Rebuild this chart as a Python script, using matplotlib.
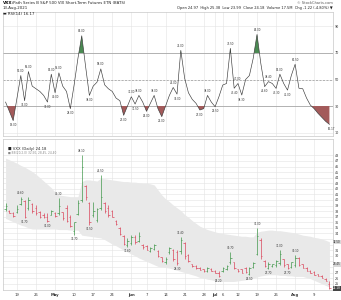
import numpy as np
import pandas as pd
import matplotlib
matplotlib.use("Agg")
import matplotlib.pyplot as plt

# trading days shown (Apr 14 - Aug 13 2021, holidays removed)
DATES = pd.bdate_range("2021-04-14", "2021-08-13")
DATES = DATES[~DATES.isin(pd.to_datetime(["2021-05-31", "2021-07-05"]))]

RSI = [33, 26, 19, 36, 53, 34, 56, 45, 43, 41, 38, 33, 54, 40, 55, 45, 41, 28, 46, 66,
       83, 60, 38, 45, 48, 58, 46, 43, 41, 36, 34, 23, 30, 37, 31.5, 38, 33, 26, 32, 38,
       28, 22, 30, 38, 44, 39, 72, 51, 40, 35, 32, 27, 28, 38, 33, 29.5, 37, 45.8, 47, 73.5,
       43.4, 47, 38.3, 50, 53, 66, 84, 62, 44.6, 48.4, 47, 43.3, 54, 47, 42, 53, 61.5, 43.4,
       43, 36, 30.7, 28, 24.5, 21.5, 18.5, 16.17]

OPEN = [38.3, 38.1, 37.6, 37.8, 39.3, 39.8, 38.5, 39.2, 38.6, 37.8, 37.3, 37.0, 37.4, 37.7, 37.6, 37.8,
        38.5, 37.0, 34.5, 37.5, 40.0, 42.5, 39.5, 37.4, 36.5, 38.6, 39.5, 38.6, 38.0, 36.3, 35.0, 33.5,
        31.9, 32.3, 33.4, 32.7, 32.0, 31.7, 30.9, 31.3, 30.9, 29.7, 28.9, 30.6, 31.0, 30.6, 30.8, 32.3,
        30.2, 28.5, 28.2, 27.9, 27.6, 27.3, 27.7, 27.3, 27.0, 27.2, 27.6, 28.8, 28.8, 27.6, 27.6, 27.8,
        26.8, 28.0, 30.4, 32.8, 29.1, 27.9, 28.1, 28.3, 28.7, 29.4, 28.5, 28.0, 28.3, 29.6, 28.5, 27.9,
        27.3, 27.1, 26.7, 26.4, 25.9, 25.0]
HIGH = [39.4, 38.2, 37.8, 39.1, 40.6, 40.0, 40.6, 39.4, 39.1, 38.0, 37.6, 37.6, 38.2, 37.9, 40.3, 37.9,
        39.1, 37.3, 36.1, 40.0, 48.1, 42.7, 39.7, 39.7, 38.5, 44.5, 39.7, 39.1, 38.2, 36.4, 35.2, 33.7,
        33.1, 33.7, 33.7, 34.3, 32.2, 31.9, 31.6, 32.2, 31.0, 29.8, 29.8, 31.6, 31.3, 31.0, 33.4, 32.5,
        30.4, 28.6, 28.3, 28.0, 27.7, 28.0, 27.8, 27.4, 27.2, 28.0, 28.3, 30.7, 28.9, 27.7, 27.7, 28.0,
        28.0, 28.9, 35.0, 33.1, 29.2, 28.9, 28.6, 29.2, 31.0, 29.5, 28.6, 28.9, 30.1, 29.8, 28.6, 28.0,
        27.4, 27.2, 26.8, 26.5, 26.0, 25.4]
LOW = [38.1, 37.6, 37.0, 37.6, 39.1, 36.7, 38.2, 37.6, 37.3, 36.7, 36.7, 36.0, 37.3, 37.0, 37.4, 36.4,
       36.0, 35.2, 33.7, 37.3, 39.7, 40.0, 35.5, 37.0, 36.0, 38.2, 37.6, 37.0, 36.9, 35.5, 33.7, 31.9,
       31.6, 31.9, 32.2, 32.5, 31.3, 31.0, 30.7, 31.0, 29.8, 28.9, 28.6, 30.4, 29.0, 28.3, 30.4, 29.5,
       28.9, 28.0, 27.7, 27.5, 27.1, 27.1, 27.2, 26.9, 26.2, 27.1, 27.4, 28.6, 27.7, 27.1, 26.9, 26.9,
       26.5, 27.8, 30.1, 29.5, 28.0, 27.7, 28.0, 28.0, 28.3, 28.0, 27.7, 27.8, 28.0, 28.1, 27.8, 27.2,
       26.9, 26.6, 26.3, 26.0, 25.4, 24.0]
CLOSE = [39.0, 37.7, 37.1, 38.3, 40.2, 36.9, 40.0, 38.0, 37.6, 37.0, 36.9, 36.2, 38.0, 37.1, 39.0, 36.8,
         36.3, 35.3, 36.0, 39.5, 46.0, 40.5, 36.0, 38.0, 38.3, 40.5, 38.0, 37.4, 37.0, 35.7, 33.9, 32.1,
         32.6, 33.4, 32.5, 33.6, 31.5, 31.1, 31.4, 32.0, 30.0, 29.1, 29.5, 31.4, 29.5, 28.7, 32.8, 29.9,
         29.1, 28.1, 27.8, 27.5, 27.3, 27.9, 27.3, 26.9, 26.4, 27.9, 28.2, 29.6, 27.9, 27.2, 27.0, 27.1,
         27.8, 28.7, 33.5, 29.9, 28.2, 28.6, 28.5, 29.0, 30.3, 28.3, 27.9, 28.8, 29.6, 28.3, 27.9, 27.3,
         26.9, 26.6, 26.3, 26.0, 25.4, 24.18]

BB_UP = [47.5, 47.2, 46.9, 46.6, 46.2, 45.9, 45.5, 45.1, 44.6, 44.0, 43.4, 42.8, 42.2, 41.4, 40.9, 40.8,
         40.7, 40.6, 40.6, 40.6, 43.3, 43.6, 43.6, 43.5, 43.4, 43.9, 43.8, 43.7, 43.6, 43.5, 43.4, 43.3,
         43.3, 43.2, 43.2, 43.1, 43.0, 43.0, 42.9, 42.7, 41.8, 40.9, 40.2, 39.7, 39.1, 38.6, 38.1, 37.4,
         36.9, 36.3, 35.8, 35.3, 35.0, 34.7, 34.5, 34.3, 34.1, 34.0, 33.9, 33.8, 33.7, 33.6, 33.5, 33.5,
         33.4, 33.4, 34.2, 34.4, 34.5, 34.6, 34.6, 34.5, 34.5, 34.4, 34.3, 34.2, 34.1, 33.9, 33.7, 33.6,
         33.5, 33.3, 33.2, 33.0, 32.8, 32.5]
BB_LO = [36.7, 36.4, 36.1, 35.8, 35.5, 35.3, 35.0, 34.8, 34.8, 34.8, 34.8, 34.8, 34.8, 34.8, 34.7, 34.7,
         34.7, 34.6, 34.6, 34.6, 33.7, 33.6, 33.5, 33.4, 33.3, 33.2, 32.9, 32.5, 32.1, 31.8, 31.4, 31.0,
         30.7, 30.3, 30.0, 29.6, 29.3, 29.0, 28.7, 28.4, 28.1, 28.0, 27.9, 27.8, 27.6, 27.4, 27.2, 27.0,
         26.8, 26.6, 26.4, 26.1, 26.0, 25.8, 25.7, 25.5, 25.4, 25.4, 25.4, 25.4, 25.4, 25.5, 25.6, 25.7,
         25.8, 26.0, 26.2, 26.4, 26.5, 26.6, 26.6, 26.6, 26.5, 26.5, 26.4, 26.4, 26.3, 26.3, 26.3, 26.1,
         25.9, 25.6, 25.3, 25.0, 24.7, 24.4]

RSI_TICKS = [10, 30, 50, 70, 90]
PRICE_TICKS = list(range(25, 49))

GREEN, RED = "#2f8f3a", "#d8344c"
GRID = "#e3e3e3"

x = np.arange(len(DATES))
rsi = np.array(RSI)
o, h, l, c = map(np.array, (OPEN, HIGH, LOW, CLOSE))

# tick positions: first trading day of each week, month name on first day of month
ticks, labels, bold = [], [], []
for i, d in enumerate(DATES):
    if i == 0:
        continue
    new_week = d.isocalendar()[1] != DATES[i - 1].isocalendar()[1]
    new_month = d.month != DATES[i - 1].month
    if new_month:
        ticks.append(i); labels.append(d.strftime("%b")); bold.append(True)
    elif new_week:
        ticks.append(i); labels.append(str(d.day)); bold.append(False)

W, H = 341, 300
def rect(x0, y0, x1, y1):
    return [x0 / W, 1 - y1 / H, (x1 - x0) / W, (y1 - y0) / H]

fig = plt.figure(figsize=(W / 100, H / 100), dpi=100)
fig.patch.set_facecolor("white")
ax1 = fig.add_axes(rect(3, 12, 333, 136))
ax2 = fig.add_axes(rect(3, 139, 333, 290))
XL = (-0.67, 85.94)
PY = (23.87, 50.93)

for ax in (ax1, ax2):
    ax.set_xlim(*XL)
    ax.set_xticks(ticks)
    ax.grid(True, color=GRID, lw=0.4, zorder=0)
    ax.set_axisbelow(True)
    ax.yaxis.tick_right()
    ax.tick_params(length=0, labelsize=2.4, colors="#333", pad=1.5)
    for s in ax.spines.values():
        s.set_color("#c8c8c8"); s.set_linewidth(0.5)

# ---- RSI panel
ax1.set_ylim(7.4, 100.9)
ax1.set_yticks(RSI_TICKS)
ax1.set_xticklabels([])
ax1.axhline(70, color="#9a9a9a", lw=0.5, zorder=1)
ax1.axhline(30, color="#9a9a9a", lw=0.5, zorder=1)
ax1.axhline(50, color="#9a9a9a", lw=0.5, ls=(0, (3, 2)), zorder=1)
ax1.fill_between(x, rsi, 70, where=rsi > 70, interpolate=True, color="#4a8a52", lw=0, zorder=2)
ax1.fill_between(x, rsi, 30, where=rsi < 30, interpolate=True, color="#a35a5a", lw=0, zorder=2)
ax1.plot(x, rsi, color="#3a3a3a", lw=0.45, zorder=3)
for i in range(1, len(rsi) - 1):
    if rsi[i] > rsi[i - 1] and rsi[i] > rsi[i + 1]:
        ax1.text(i, rsi[i] + 2, f"{rsi[i]:.2f}", fontsize=1.9, ha="center", va="bottom", color="#333")
    elif rsi[i] < rsi[i - 1] and rsi[i] < rsi[i + 1]:
        ax1.text(i, rsi[i] - 2, f"{rsi[i]:.2f}", fontsize=1.9, ha="center", va="top", color="#333")
ax1.text(85.4, rsi[-1] - 2, f"{rsi[-1]:.2f}", fontsize=1.9, ha="center", va="top", color="#333")

# ---- price panel
BOXES = [(BB_UP[-1], "#d9d9d9"), ((BB_UP[-1] + BB_LO[-1]) / 2, "#d9d9d9"), (c[-1], "#444")]
ax2.set_ylim(*PY)
ax2.set_yticks(PRICE_TICKS)
ax2.set_yticklabels(["" if any(abs(t - v) < 0.7 for v, _ in BOXES) else str(t) for t in PRICE_TICKS])
ax2.set_xticklabels(labels)
for t, b in zip(ax2.get_xticklabels(), bold):
    t.set_fontsize(2.7)
    if b:
        t.set_fontweight("bold")
ax2.tick_params(axis="x", pad=2.5)
ax2.fill_between(x, BB_LO, BB_UP, color="#e9e9e9", lw=0, zorder=1)
col = [GREEN if cc >= oo else RED for oo, cc in zip(o, c)]
ax2.vlines(x, l, h, colors=col, lw=0.45, zorder=3)
ax2.hlines(o, x - 0.38, x, colors=col, lw=0.45, zorder=3)
ax2.hlines(c, x, x + 0.38, colors=col, lw=0.45, zorder=3)
for i in range(len(x)):
    lo, hi = max(0, i - 3), min(len(x), i + 4)
    if i > 0 and h[i] == h[lo:hi].max() and h[i] > h[i - 1] + 1.0:
        ax2.text(i, h[i] + 0.35, f"{h[i]:.2f}", fontsize=1.9, ha="center", va="bottom", color="#333")
    if i > 0 and l[i] == l[lo:hi].min() and i < len(x) - 1:
        ax2.text(i, l[i] - 0.35, f"{l[i]:.2f}", fontsize=1.9, ha="center", va="top", color="#333")
ax2.text(0.6, 49.2, "\u25a0 VXX (Daily) 24.18", fontsize=2.7, color="#222", va="center")
ax2.text(0.6, 48.5, "\u25a0 BB(20,2.0) 32.50, 28.45, 24.40", fontsize=2.1, color="#888", va="center")

# last value boxes on right axis
tr = ax2.get_yaxis_transform()
for val, fc in BOXES:
    ax2.text(1.0, val, f"{val:.2f}", transform=tr,
             fontsize=2.0, color="white" if fc == "#444" else "#222", va="center", ha="left",
             bbox=dict(boxstyle="square,pad=0.1", fc=fc, ec="none"))

# ---- header
fig.text(3 / W, 1 - 3.5 / H, "VXX", fontsize=3, fontweight="bold", va="center", color="#111")
fig.text(12 / W, 1 - 3.5 / H, "iPath Series B S&P 500 VIX Short-Term Futures ETN (BATS)", fontsize=2.8,
         va="center", color="#222")
fig.text(3 / W, 1 - 8.5 / H, "13-Aug-2021", fontsize=2.8, va="center", color="#222")
fig.text(3 / W, 1 - 14 / H, "\u25ac RSI(14) 16.17", fontsize=2.8, va="center", color="#222")
fig.text(333 / W, 1 - 3.5 / H, "\u00a9 StockCharts.com", fontsize=2.6, va="center", ha="right", color="#555")
fig.text(333 / W, 1 - 8.5 / H,
         "Open 24.97  High 25.38  Low 23.99  Close 24.18  Volume 17.5M  Chg -1.22 (-4.80%) \u25bc",
         fontsize=2.6, va="center", ha="right", color="#222")

fig.savefig("out.png", dpi=100, facecolor="white")
